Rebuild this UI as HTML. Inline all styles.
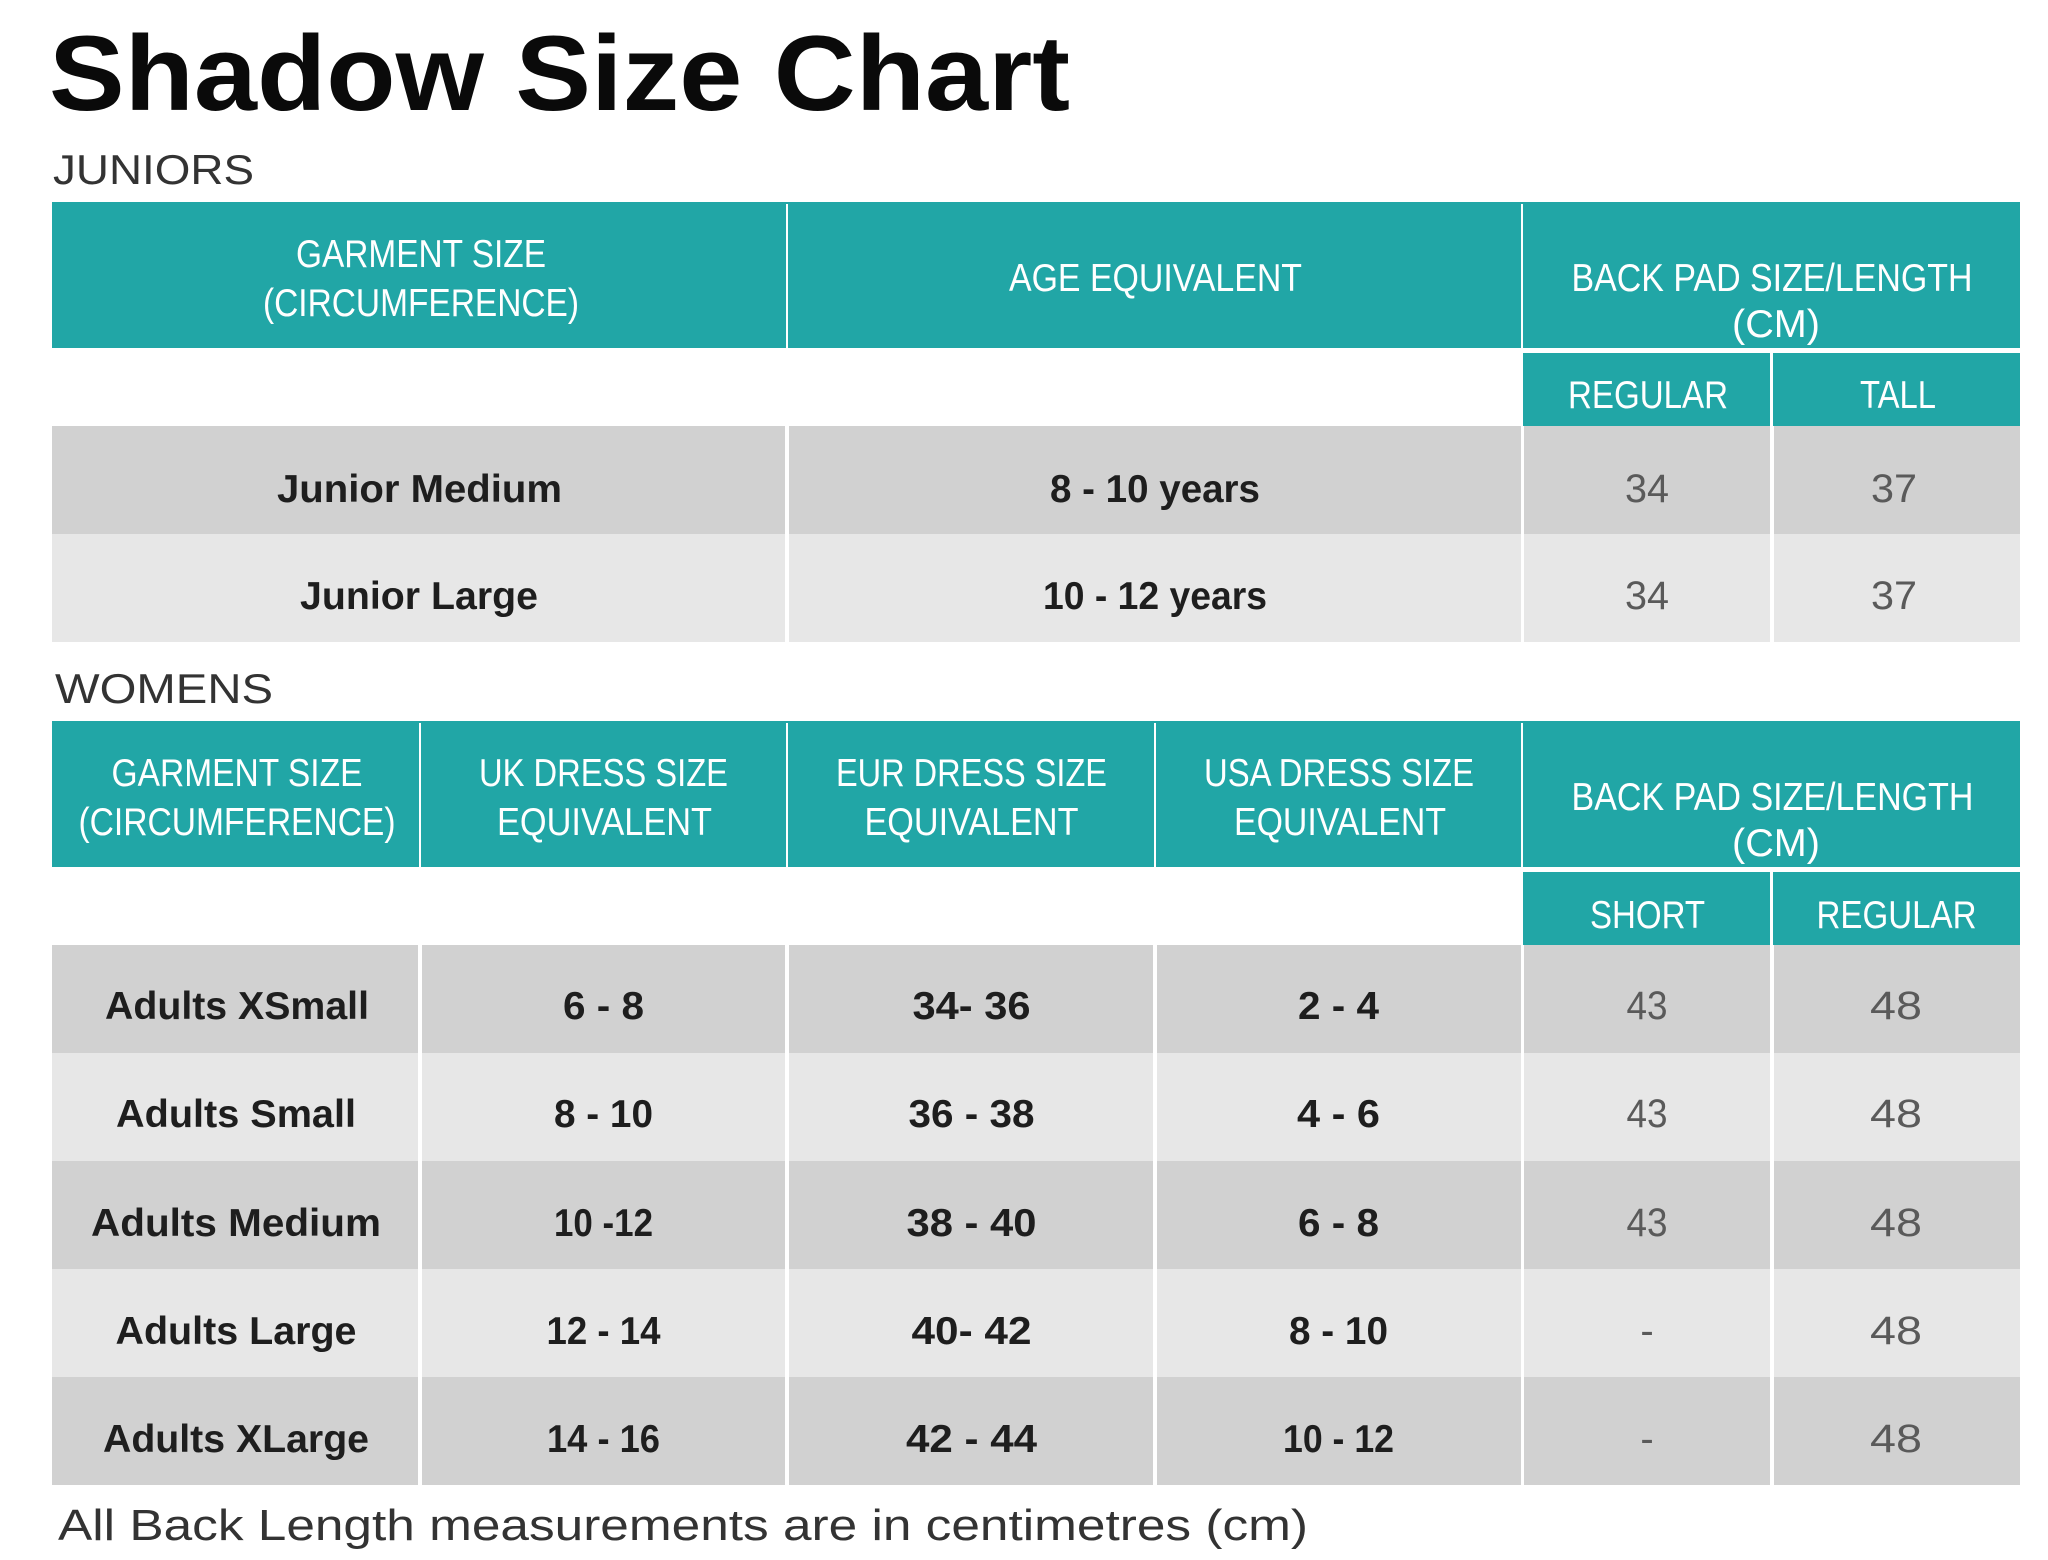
<!DOCTYPE html>
<html>
<head>
<meta charset="utf-8">
<style>
html,body{margin:0;padding:0;background:#fff;}
svg{display:block;}
text{font-family:"Liberation Sans",sans-serif;}
.t{font-weight:bold;fill:#0a0a0a;}
.sec{fill:#333;font-size:42px;}
.h{fill:#fff;font-size:39px;text-anchor:middle;}
.b{fill:#1e1e1e;font-size:39px;font-weight:bold;text-anchor:middle;}
.n{fill:#5a5a5a;font-size:40px;text-anchor:middle;}
.f{fill:#333;font-size:44px;}
</style>
</head>
<body>
<svg width="2048" height="1560" viewBox="0 0 2048 1560" xmlns="http://www.w3.org/2000/svg">
<rect width="2048" height="1560" fill="#fff"/>

<text class="t" x="49" y="110" font-size="107" textLength="1021" lengthAdjust="spacingAndGlyphs">Shadow Size Chart</text>
<text class="sec" x="53" y="184" textLength="201" lengthAdjust="spacingAndGlyphs">JUNIORS</text>

<!-- JUNIORS header -->
<rect x="52" y="202" width="1968" height="146" fill="#21a6a6"/>
<rect x="786" y="204" width="2" height="144" fill="#fff"/>
<rect x="1521" y="204" width="2" height="144" fill="#fff"/>
<rect x="1523" y="353" width="247" height="73" fill="#21a6a6"/>
<rect x="1773" y="353" width="247" height="73" fill="#21a6a6"/>
<!-- JUNIORS rows -->
<rect x="52" y="426" width="733" height="108" fill="#d1d1d1"/>
<rect x="789" y="426" width="732" height="108" fill="#d1d1d1"/>
<rect x="1524" y="426" width="246" height="108" fill="#d1d1d1"/>
<rect x="1774" y="426" width="246" height="108" fill="#d1d1d1"/>
<rect x="52" y="534" width="733" height="108" fill="#e7e7e7"/>
<rect x="789" y="534" width="732" height="108" fill="#e7e7e7"/>
<rect x="1524" y="534" width="246" height="108" fill="#e7e7e7"/>
<rect x="1774" y="534" width="246" height="108" fill="#e7e7e7"/>

<text class="h" x="421" y="267" textLength="250" lengthAdjust="spacingAndGlyphs">GARMENT SIZE</text>
<text class="h" x="421" y="316" textLength="316" lengthAdjust="spacingAndGlyphs">(CIRCUMFERENCE)</text>
<text class="h" x="1155.5" y="291" textLength="293" lengthAdjust="spacingAndGlyphs">AGE EQUIVALENT</text>
<text class="h" x="1772" y="291" textLength="401" lengthAdjust="spacingAndGlyphs">BACK PAD SIZE/LENGTH</text>
<text class="h" x="1776" y="337" textLength="88" lengthAdjust="spacingAndGlyphs">(CM)</text>
<text class="h" x="1648" y="408" textLength="160" lengthAdjust="spacingAndGlyphs">REGULAR</text>
<text class="h" x="1898" y="408" textLength="76" lengthAdjust="spacingAndGlyphs">TALL</text>

<text class="b" x="419.5" y="502" textLength="285" lengthAdjust="spacingAndGlyphs">Junior Medium</text>
<text class="b" x="1155" y="502" textLength="210" lengthAdjust="spacingAndGlyphs">8 - 10 years</text>
<text class="n" x="1647" y="502" textLength="44" lengthAdjust="spacingAndGlyphs">34</text>
<text class="n" x="1894" y="502" textLength="46" lengthAdjust="spacingAndGlyphs">37</text>
<text class="b" x="419" y="609" textLength="238" lengthAdjust="spacingAndGlyphs">Junior Large</text>
<text class="b" x="1155" y="609" textLength="224" lengthAdjust="spacingAndGlyphs">10 - 12 years</text>
<text class="n" x="1647" y="609" textLength="44" lengthAdjust="spacingAndGlyphs">34</text>
<text class="n" x="1894" y="609" textLength="46" lengthAdjust="spacingAndGlyphs">37</text>

<text class="sec" x="55" y="703" textLength="218" lengthAdjust="spacingAndGlyphs">WOMENS</text>

<!-- WOMENS header -->
<rect x="52" y="721" width="1968" height="146" fill="#21a6a6"/>
<rect x="419" y="723" width="2" height="144" fill="#fff"/>
<rect x="786" y="723" width="2" height="144" fill="#fff"/>
<rect x="1154" y="723" width="2" height="144" fill="#fff"/>
<rect x="1521" y="723" width="2" height="144" fill="#fff"/>
<rect x="1523" y="872" width="247" height="73" fill="#21a6a6"/>
<rect x="1773" y="872" width="247" height="73" fill="#21a6a6"/>

<!-- WOMENS rows -->
<g>
<rect x="52" y="945" width="366" height="108" fill="#d1d1d1"/>
<rect x="422" y="945" width="363" height="108" fill="#d1d1d1"/>
<rect x="789" y="945" width="364" height="108" fill="#d1d1d1"/>
<rect x="1157" y="945" width="364" height="108" fill="#d1d1d1"/>
<rect x="1524" y="945" width="246" height="108" fill="#d1d1d1"/>
<rect x="1774" y="945" width="246" height="108" fill="#d1d1d1"/>

<rect x="52" y="1053" width="366" height="108" fill="#e7e7e7"/>
<rect x="422" y="1053" width="363" height="108" fill="#e7e7e7"/>
<rect x="789" y="1053" width="364" height="108" fill="#e7e7e7"/>
<rect x="1157" y="1053" width="364" height="108" fill="#e7e7e7"/>
<rect x="1524" y="1053" width="246" height="108" fill="#e7e7e7"/>
<rect x="1774" y="1053" width="246" height="108" fill="#e7e7e7"/>

<rect x="52" y="1161" width="366" height="108" fill="#d1d1d1"/>
<rect x="422" y="1161" width="363" height="108" fill="#d1d1d1"/>
<rect x="789" y="1161" width="364" height="108" fill="#d1d1d1"/>
<rect x="1157" y="1161" width="364" height="108" fill="#d1d1d1"/>
<rect x="1524" y="1161" width="246" height="108" fill="#d1d1d1"/>
<rect x="1774" y="1161" width="246" height="108" fill="#d1d1d1"/>

<rect x="52" y="1269" width="366" height="108" fill="#e7e7e7"/>
<rect x="422" y="1269" width="363" height="108" fill="#e7e7e7"/>
<rect x="789" y="1269" width="364" height="108" fill="#e7e7e7"/>
<rect x="1157" y="1269" width="364" height="108" fill="#e7e7e7"/>
<rect x="1524" y="1269" width="246" height="108" fill="#e7e7e7"/>
<rect x="1774" y="1269" width="246" height="108" fill="#e7e7e7"/>

<rect x="52" y="1377" width="366" height="108" fill="#d1d1d1"/>
<rect x="422" y="1377" width="363" height="108" fill="#d1d1d1"/>
<rect x="789" y="1377" width="364" height="108" fill="#d1d1d1"/>
<rect x="1157" y="1377" width="364" height="108" fill="#d1d1d1"/>
<rect x="1524" y="1377" width="246" height="108" fill="#d1d1d1"/>
<rect x="1774" y="1377" width="246" height="108" fill="#d1d1d1"/>
</g>

<text class="h" x="237" y="786" textLength="251" lengthAdjust="spacingAndGlyphs">GARMENT SIZE</text>
<text class="h" x="237" y="835" textLength="317" lengthAdjust="spacingAndGlyphs">(CIRCUMFERENCE)</text>
<text class="h" x="603.5" y="786" textLength="249" lengthAdjust="spacingAndGlyphs">UK DRESS SIZE</text>
<text class="h" x="604.5" y="835" textLength="215" lengthAdjust="spacingAndGlyphs">EQUIVALENT</text>
<text class="h" x="971.5" y="786" textLength="271" lengthAdjust="spacingAndGlyphs">EUR DRESS SIZE</text>
<text class="h" x="971.5" y="835" textLength="214" lengthAdjust="spacingAndGlyphs">EQUIVALENT</text>
<text class="h" x="1339" y="786" textLength="270" lengthAdjust="spacingAndGlyphs">USA DRESS SIZE</text>
<text class="h" x="1340" y="835" textLength="212" lengthAdjust="spacingAndGlyphs">EQUIVALENT</text>
<text class="h" x="1772.5" y="810" textLength="402" lengthAdjust="spacingAndGlyphs">BACK PAD SIZE/LENGTH</text>
<text class="h" x="1776" y="856" textLength="88" lengthAdjust="spacingAndGlyphs">(CM)</text>
<text class="h" x="1647.5" y="928" textLength="115" lengthAdjust="spacingAndGlyphs">SHORT</text>
<text class="h" x="1896.5" y="928" textLength="160" lengthAdjust="spacingAndGlyphs">REGULAR</text>

<!-- row 1 -->
<text class="b" x="237" y="1019" textLength="264" lengthAdjust="spacingAndGlyphs">Adults XSmall</text>
<text class="b" x="603.5" y="1019" textLength="81" lengthAdjust="spacingAndGlyphs">6 - 8</text>
<text class="b" x="971.5" y="1019" textLength="118" lengthAdjust="spacingAndGlyphs">34- 36</text>
<text class="b" x="1338.5" y="1019" textLength="81" lengthAdjust="spacingAndGlyphs">2 - 4</text>
<text class="n" x="1647" y="1019" textLength="41" lengthAdjust="spacingAndGlyphs">43</text>
<text class="n" x="1896" y="1019" textLength="52" lengthAdjust="spacingAndGlyphs">48</text>
<!-- row 2 -->
<text class="b" x="236" y="1127" textLength="240" lengthAdjust="spacingAndGlyphs">Adults Small</text>
<text class="b" x="603.5" y="1127" textLength="99" lengthAdjust="spacingAndGlyphs">8 - 10</text>
<text class="b" x="971.5" y="1127" textLength="126" lengthAdjust="spacingAndGlyphs">36 - 38</text>
<text class="b" x="1338.5" y="1127" textLength="83" lengthAdjust="spacingAndGlyphs">4 - 6</text>
<text class="n" x="1647" y="1127" textLength="41" lengthAdjust="spacingAndGlyphs">43</text>
<text class="n" x="1896" y="1127" textLength="52" lengthAdjust="spacingAndGlyphs">48</text>
<!-- row 3 -->
<text class="b" x="236" y="1236" textLength="290" lengthAdjust="spacingAndGlyphs">Adults Medium</text>
<text class="b" x="603.5" y="1236" textLength="99" lengthAdjust="spacingAndGlyphs">10 -12</text>
<text class="b" x="971.5" y="1236" textLength="130" lengthAdjust="spacingAndGlyphs">38 - 40</text>
<text class="b" x="1338.5" y="1236" textLength="81" lengthAdjust="spacingAndGlyphs">6 - 8</text>
<text class="n" x="1647" y="1236" textLength="41" lengthAdjust="spacingAndGlyphs">43</text>
<text class="n" x="1896" y="1236" textLength="52" lengthAdjust="spacingAndGlyphs">48</text>
<!-- row 4 -->
<text class="b" x="236" y="1344" textLength="241" lengthAdjust="spacingAndGlyphs">Adults Large</text>
<text class="b" x="603.5" y="1344" textLength="114" lengthAdjust="spacingAndGlyphs">12 - 14</text>
<text class="b" x="971.5" y="1344" textLength="120" lengthAdjust="spacingAndGlyphs">40- 42</text>
<text class="b" x="1338.5" y="1344" textLength="99" lengthAdjust="spacingAndGlyphs">8 - 10</text>
<text class="n" x="1647" y="1344">-</text>
<text class="n" x="1896" y="1344" textLength="52" lengthAdjust="spacingAndGlyphs">48</text>
<!-- row 5 -->
<text class="b" x="236" y="1452" textLength="266" lengthAdjust="spacingAndGlyphs">Adults XLarge</text>
<text class="b" x="603.5" y="1452" textLength="113" lengthAdjust="spacingAndGlyphs">14 - 16</text>
<text class="b" x="971.5" y="1452" textLength="131" lengthAdjust="spacingAndGlyphs">42 - 44</text>
<text class="b" x="1338.5" y="1452" textLength="111" lengthAdjust="spacingAndGlyphs">10 - 12</text>
<text class="n" x="1647" y="1452">-</text>
<text class="n" x="1896" y="1452" textLength="52" lengthAdjust="spacingAndGlyphs">48</text>

<text class="f" x="58" y="1540" textLength="1250" lengthAdjust="spacingAndGlyphs">All Back Length measurements are in centimetres (cm)</text>
</svg>
</body>
</html>
